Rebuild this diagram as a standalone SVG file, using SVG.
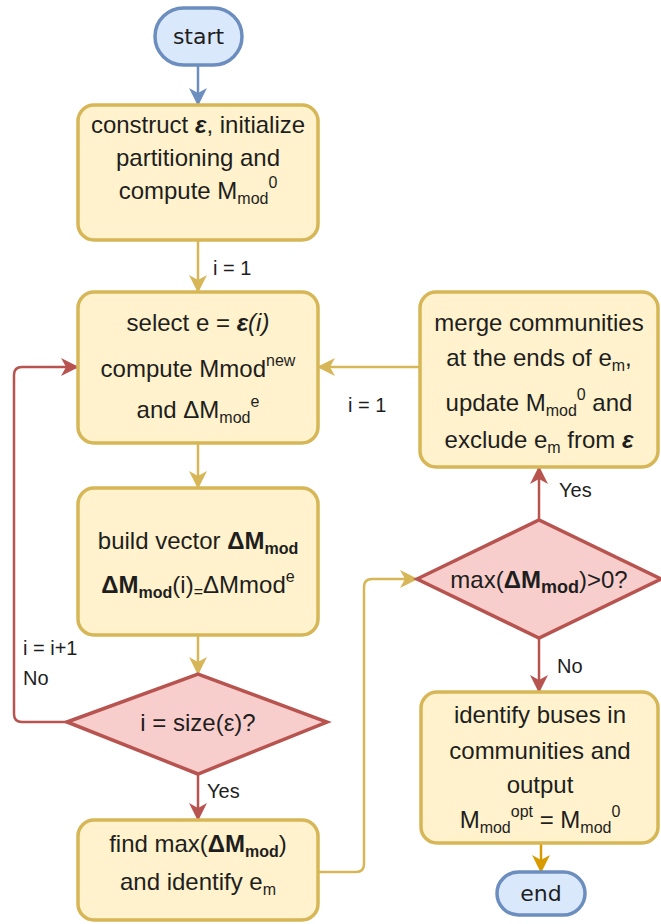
<svg xmlns="http://www.w3.org/2000/svg" width="661" height="924" viewBox="0 0 661 924">
  <style>
    .proc { fill: #fff2cc; stroke: #d6b656; stroke-width: 3.5; }
    .dec { fill: #f8cecc; stroke: #b85450; stroke-width: 3.5; }
    .term { fill: #dae8fc; stroke: #6c8ebf; stroke-width: 3.5; }
    .t { font-family: "Liberation Sans", Arial, sans-serif; font-size: 24px; fill: #1e1e1e; text-anchor: middle; }
    .lbl { font-family: "Liberation Sans", Arial, sans-serif; font-size: 20px; fill: #1e1e1e; }
    .tt { font-family: "DejaVu Sans", sans-serif; font-size: 22px; fill: #1e1e1e; text-anchor: middle; }
    .b { font-weight: bold; }
    .bi { font-weight: bold; font-style: italic; }
    .it { font-style: italic; }
    .s { font-size: 16px; }
    .c { fill: none; stroke-width: 2.5; }
    .gold { stroke: #d6b656; }
    .red { stroke: #b85450; }
    .blue { stroke: #6c8ebf; }
    .orange { stroke: #d79b00; }
  </style>
  <defs>
    <marker id="ah-gold" markerUnits="userSpaceOnUse" viewBox="0 0 18 18" markerWidth="18" markerHeight="18" refX="17" refY="9" orient="auto">
      <path d="M0,0 L18,9 L0,18 L5,9 Z" fill="#d6b656"/>
    </marker>
    <marker id="ah-red" markerUnits="userSpaceOnUse" viewBox="0 0 18 18" markerWidth="18" markerHeight="18" refX="17" refY="9" orient="auto">
      <path d="M0,0 L18,9 L0,18 L5,9 Z" fill="#b85450"/>
    </marker>
    <marker id="ah-blue" markerUnits="userSpaceOnUse" viewBox="0 0 18 18" markerWidth="18" markerHeight="18" refX="17" refY="9" orient="auto">
      <path d="M0,0 L18,9 L0,18 L5,9 Z" fill="#6c8ebf"/>
    </marker>
    <marker id="ah-orange" markerUnits="userSpaceOnUse" viewBox="0 0 18 18" markerWidth="18" markerHeight="18" refX="17" refY="9" orient="auto">
      <path d="M0,0 L18,9 L0,18 L5,9 Z" fill="#d79b00"/>
    </marker>
  </defs>

  <rect width="661" height="924" fill="#ffffff"/>

  <!-- connectors -->
  <g id="connectors">
    <path class="c blue" d="M198,65 V105" marker-end="url(#ah-blue)"/>
    <path class="c gold" d="M198,240 V292" marker-end="url(#ah-gold)"/>
    <path class="c gold" d="M198,443 V488" marker-end="url(#ah-gold)"/>
    <path class="c gold" d="M198,635 V674" marker-end="url(#ah-gold)"/>
    <path class="c red" d="M198,774 V820" marker-end="url(#ah-red)"/>
    <path class="c red" d="M67,722 H22 Q14,722 14,714 V375 Q14,367 22,367 H78" marker-end="url(#ah-red)"/>
    <path class="c gold" d="M318,872 H356 Q364,872 364,864 V587 Q364,579 372,579 H417" marker-end="url(#ah-gold)"/>
    <path class="c gold" d="M420,367 H318" marker-end="url(#ah-gold)"/>
    <path class="c red" d="M539,520 V467" marker-end="url(#ah-red)"/>
    <path class="c red" d="M539,638 V692" marker-end="url(#ah-red)"/>
    <path class="c orange" d="M541,843 V872" marker-end="url(#ah-orange)"/>

    <text class="lbl" x="213" y="275">i = 1</text>
    <text class="lbl" x="348" y="412">i = 1</text>
    <text class="lbl" x="23" y="655">i = i+1</text>
    <text class="lbl" x="23" y="685">No</text>
    <text class="lbl" x="207" y="798">Yes</text>
    <text class="lbl" x="559" y="497">Yes</text>
    <text class="lbl" x="557" y="673">No</text>
  </g>

  <g id="start">
    <rect class="term" x="155" y="8" width="87" height="57" rx="28.5"/>
    <text class="tt" x="198.5" y="44">start</text>
  </g>

  <g id="init">
    <rect class="proc" x="78" y="105" width="240" height="135" rx="16"/>
    <text class="t" x="198" y="133">construct <tspan class="bi">ε</tspan>, initialize</text>
    <text class="t" x="198" y="166">partitioning and</text>
    <text class="t" x="198" y="199">compute M<tspan class="s" dy="5">mod</tspan><tspan class="s" dy="-16">0</tspan></text>
  </g>

  <g id="select">
    <rect class="proc" x="78" y="292" width="240" height="151" rx="16"/>
    <text class="t" x="198" y="331">select e = <tspan class="bi">ε</tspan><tspan class="it">(i)</tspan></text>
    <text class="t" x="198" y="377">compute Mmod<tspan class="s" dy="-11">new</tspan></text>
    <text class="t" x="198" y="418">and ΔM<tspan class="s" dy="5">mod</tspan><tspan class="s" dy="-16">e</tspan></text>
  </g>

  <g id="build">
    <rect class="proc" x="78" y="488" width="240" height="147" rx="16"/>
    <text class="t" x="198" y="549">build vector <tspan class="b">ΔM</tspan><tspan class="s b" dy="5">mod</tspan></text>
    <text class="t" x="198" y="593"><tspan class="b">ΔM</tspan><tspan class="s b" dy="5">mod</tspan><tspan dy="-5">(i)</tspan><tspan class="s" dy="4">=</tspan><tspan dy="-4">ΔMmod</tspan><tspan class="s" dy="-11">e</tspan></text>
  </g>

  <g id="check-size">
    <polygon class="dec" points="67,722 198,674 327,722 198,774"/>
    <text class="t" x="198" y="731">i = size(ε)?</text>
  </g>

  <g id="find-max">
    <rect class="proc" x="78" y="820" width="240" height="100" rx="16"/>
    <text class="t" x="198" y="852">find max(<tspan class="b">ΔM</tspan><tspan class="s b" dy="5">mod</tspan><tspan dy="-5">)</tspan></text>
    <text class="t" x="198" y="890">and identify e<tspan class="s" dy="5">m</tspan></text>
  </g>

  <g id="merge">
    <rect class="proc" x="420" y="292" width="238" height="175" rx="16"/>
    <text class="t" x="539" y="331">merge communities</text>
    <text class="t" x="539" y="366">at the ends of e<tspan class="s" dy="5">m</tspan><tspan dy="-5">,</tspan></text>
    <text class="t" x="539" y="411">update M<tspan class="s" dy="5">mod</tspan><tspan class="s" dy="-16">0</tspan><tspan dy="11"> and</tspan></text>
    <text class="t" x="539" y="448">exclude e<tspan class="s" dy="5">m</tspan><tspan dy="-5"> from </tspan><tspan class="bi">ε</tspan></text>
  </g>

  <g id="check-max">
    <polygon class="dec" points="417,579 539,520 661,579 539,638"/>
    <text class="t" x="539" y="588">max(<tspan class="b">ΔM</tspan><tspan class="b" font-size="18" dy="5">mod</tspan><tspan dy="-5">)&gt;0?</tspan></text>
  </g>

  <g id="output">
    <rect class="proc" x="421" y="692" width="237" height="151" rx="16"/>
    <text class="t" x="540" y="723">identify buses in</text>
    <text class="t" x="540" y="759">communities and</text>
    <text class="t" x="540" y="793">output</text>
    <text class="t" x="540" y="828">M<tspan class="s" dy="5">mod</tspan><tspan class="s" dy="-16">opt</tspan><tspan dy="11"> = M</tspan><tspan class="s" dy="5">mod</tspan><tspan class="s" dy="-16">0</tspan></text>
  </g>

  <g id="end">
    <rect class="term" x="497" y="872" width="88" height="43" rx="21.5"/>
    <text class="tt" x="541" y="901">end</text>
  </g>
</svg>
